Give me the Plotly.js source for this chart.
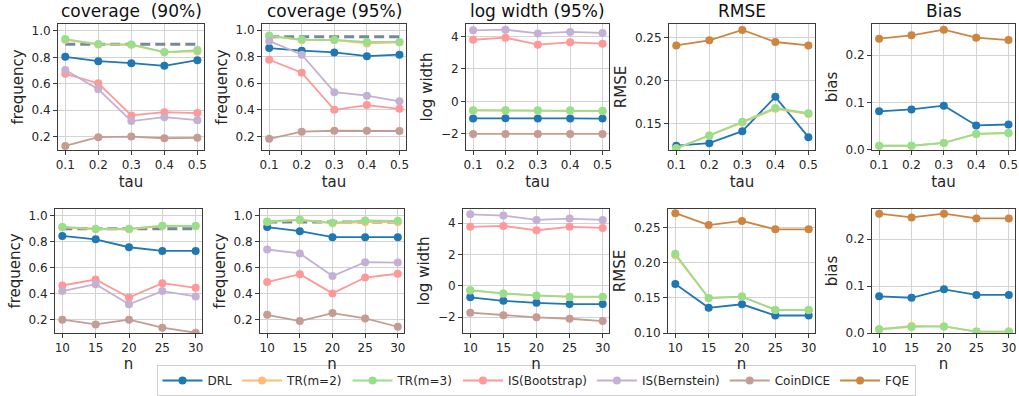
<!DOCTYPE html>
<html>
<head>
<meta charset="utf-8">
<script src="https://cdn.plot.ly/plotly-3.0.1.min.js"></script>
<style>html,body{margin:0;padding:0;background:#fff;}#chart{width:1019px;height:396px;}</style>
</head>
<body>
<div id="chart"></div>
<script>
// ---------------- data ----------------
const tauVals = [0.1, 0.2, 0.3, 0.4, 0.5];
const nVals = [10, 15, 20, 25, 30];
const nominal90 = 0.9;
const nominal95 = 0.95;

// coverage (90%) vs tau
const cov90Tau_DRL  = [0.804, 0.771, 0.756, 0.736, 0.779];
const cov90Tau_TR2  = [0.932, 0.898, 0.895, 0.838, 0.845];
const cov90Tau_TR3  = [0.939, 0.901, 0.898, 0.840, 0.855];
const cov90Tau_Boot = [0.675, 0.604, 0.360, 0.385, 0.378];
const cov90Tau_Bern = [0.705, 0.558, 0.317, 0.347, 0.324];
const cov90Tau_Coin = [0.129, 0.195, 0.200, 0.187, 0.190];

// coverage (95%) vs tau
const cov95Tau_DRL  = [0.865, 0.845, 0.832, 0.804, 0.815];
const cov95Tau_TR2  = [0.955, 0.925, 0.925, 0.900, 0.908];
const cov95Tau_TR3  = [0.959, 0.929, 0.926, 0.911, 0.911];
const cov95Tau_Boot = [0.777, 0.680, 0.400, 0.436, 0.408];
const cov95Tau_Bern = [0.919, 0.815, 0.533, 0.507, 0.464];
const cov95Tau_Coin = [0.182, 0.236, 0.243, 0.243, 0.241];

// log width (95%) vs tau
const logwTau_DRL  = [-1.05, -1.04, -1.05, -1.05, -1.06];
const logwTau_TR2  = [-0.56, -0.56, -0.57, -0.58, -0.60];
const logwTau_TR3  = [-0.54, -0.54, -0.55, -0.55, -0.58];
const logwTau_Boot = [3.79, 3.92, 3.49, 3.63, 3.55];
const logwTau_Bern = [4.37, 4.41, 4.18, 4.27, 4.21];
const logwTau_Coin = [-2.00, -2.00, -2.00, -2.00, -2.00];

// RMSE vs tau
const rmseTau_DRL = [0.124, 0.127, 0.141, 0.181, 0.134];
const rmseTau_TR2 = [0.121, 0.136, 0.151, 0.167, 0.161];
const rmseTau_TR3 = [0.121, 0.136, 0.152, 0.168, 0.162];
const rmseTau_FQE = [0.241, 0.247, 0.259, 0.245, 0.241];

// Bias vs tau
const biasTau_DRL = [0.081, 0.085, 0.093, 0.051, 0.053];
const biasTau_TR2 = [0.008, 0.008, 0.014, 0.033, 0.035];
const biasTau_TR3 = [0.008, 0.008, 0.014, 0.033, 0.035];
const biasTau_FQE = [0.235, 0.242, 0.254, 0.237, 0.232];

// coverage (90%) vs n
const cov90N_DRL  = [0.844, 0.818, 0.757, 0.729, 0.729];
const cov90N_TR2  = [0.910, 0.895, 0.895, 0.920, 0.920];
const cov90N_TR3  = [0.913, 0.900, 0.900, 0.923, 0.921];
const cov90N_Boot = [0.463, 0.509, 0.371, 0.481, 0.445];
const cov90N_Bern = [0.420, 0.473, 0.318, 0.420, 0.379];
const cov90N_Coin = [0.200, 0.164, 0.200, 0.139, 0.100];

// coverage (95%) vs n
const cov95N_DRL  = [0.911, 0.880, 0.834, 0.834, 0.834];
const cov95N_TR2  = [0.950, 0.965, 0.940, 0.950, 0.950];
const cov95N_TR3  = [0.954, 0.969, 0.944, 0.962, 0.959];
const cov95N_Boot = [0.489, 0.550, 0.402, 0.524, 0.553];
const cov95N_Bern = [0.739, 0.709, 0.535, 0.642, 0.639];
const cov95N_Coin = [0.238, 0.190, 0.251, 0.210, 0.146];

// log width (95%) vs n
const logwN_DRL  = [-0.74, -0.96, -1.09, -1.17, -1.17];
const logwN_TR2  = [-0.30, -0.50, -0.63, -0.71, -0.71];
const logwN_TR3  = [-0.28, -0.49, -0.62, -0.70, -0.70];
const logwN_Boot = [3.77, 3.83, 3.55, 3.77, 3.70];
const logwN_Bern = [4.57, 4.49, 4.21, 4.30, 4.21];
const logwN_Coin = [-1.72, -1.89, -2.02, -2.11, -2.26];

// RMSE vs n
const rmseN_DRL = [0.170, 0.136, 0.141, 0.125, 0.125];
const rmseN_TR2 = [0.211, 0.150, 0.152, 0.133, 0.133];
const rmseN_TR3 = [0.213, 0.150, 0.152, 0.133, 0.133];
const rmseN_FQE = [0.271, 0.254, 0.260, 0.248, 0.248];

// Bias vs n
const biasN_DRL = [0.078, 0.075, 0.093, 0.081, 0.081];
const biasN_TR2 = [0.008, 0.015, 0.014, 0.003, 0.003];
const biasN_TR3 = [0.008, 0.013, 0.014, 0.003, 0.003];
const biasN_FQE = [0.254, 0.246, 0.254, 0.244, 0.244];

const seriesNames = ['DRL', 'TR(m=2)', 'TR(m=3)', 'IS(Bootstrap)', 'IS(Bernstein)', 'CoinDICE', 'FQE'];
const panelTitles = ['coverage\u00a0\u00a0(90%)', 'coverage (95%)', 'log width (95%)', 'RMSE', 'Bias'];
const yTitles = ['frequency', 'frequency', 'log width', 'RMSE', 'bias'];
const xTitles = ['tau', 'n'];

// ---------------- style ----------------
const W = 1019, H = 396;
const FONT = 'DejaVu Sans, sans-serif';
const colors = {
  'DRL': '#1f77b4', 'TR(m=2)': '#ffbb78', 'TR(m=3)': '#98df8a',
  'IS(Bootstrap)': '#ff9896', 'IS(Bernstein)': '#c5b0d5', 'CoinDICE': '#c49c94', 'FQE': '#cd853f'
};
// pixel boxes [left, right, top, bottom]
const boxes = [
  [58, 204, 24, 150], [262, 406, 24, 150], [466, 609, 24, 150], [669, 815, 24, 150], [872, 1015, 24, 150],
  [55, 202, 209, 333], [260, 404, 209, 333], [463, 609, 209, 333], [668, 815, 209, 333], [872, 1015, 209, 333]
];
const yRanges = [
  [0.098, 1.053], [0.098, 1.046], [-2.99, 4.76], [0.119, 0.266], [-0.001, 0.266],
  [0.098, 1.051], [0.098, 1.050], [-3.02, 4.91], [0.100, 0.277], [0.0, 0.264]
];
const yTicks = [
  [0.2, 0.4, 0.6, 0.8, 1.0], [0.2, 0.4, 0.6, 0.8, 1.0], [-2, 0, 2, 4], [0.15, 0.20, 0.25], [0.0, 0.1, 0.2],
  [0.2, 0.4, 0.6, 0.8, 1.0], [0.2, 0.4, 0.6, 0.8, 1.0], [-2, 0, 2, 4], [0.10, 0.15, 0.20, 0.25], [0.0, 0.1, 0.2]
];
const yFormats = ['.1f', '.1f', 'd', '.2f', '.1f', '.1f', '.1f', 'd', '.2f', '.1f'];

const panels = [
  {x: tauVals, nominal: nominal90, s: [cov90Tau_DRL, cov90Tau_TR2, cov90Tau_TR3, cov90Tau_Boot, cov90Tau_Bern, cov90Tau_Coin, null]},
  {x: tauVals, nominal: nominal95, s: [cov95Tau_DRL, cov95Tau_TR2, cov95Tau_TR3, cov95Tau_Boot, cov95Tau_Bern, cov95Tau_Coin, null]},
  {x: tauVals, nominal: null, s: [logwTau_DRL, logwTau_TR2, logwTau_TR3, logwTau_Boot, logwTau_Bern, logwTau_Coin, null]},
  {x: tauVals, nominal: null, s: [rmseTau_DRL, rmseTau_TR2, rmseTau_TR3, null, null, null, rmseTau_FQE]},
  {x: tauVals, nominal: null, s: [biasTau_DRL, biasTau_TR2, biasTau_TR3, null, null, null, biasTau_FQE]},
  {x: nVals, nominal: nominal90, s: [cov90N_DRL, cov90N_TR2, cov90N_TR3, cov90N_Boot, cov90N_Bern, cov90N_Coin, null]},
  {x: nVals, nominal: nominal95, s: [cov95N_DRL, cov95N_TR2, cov95N_TR3, cov95N_Boot, cov95N_Bern, cov95N_Coin, null]},
  {x: nVals, nominal: null, s: [logwN_DRL, logwN_TR2, logwN_TR3, logwN_Boot, logwN_Bern, logwN_Coin, null]},
  {x: nVals, nominal: null, s: [rmseN_DRL, rmseN_TR2, rmseN_TR3, null, null, null, rmseN_FQE]},
  {x: nVals, nominal: null, s: [biasN_DRL, biasN_TR2, biasN_TR3, null, null, null, biasN_FQE]}
];

const traces = [];
const layout = {
  width: W, height: H,
  margin: {l: 0, r: 0, t: 0, b: 0},
  paper_bgcolor: '#fff', plot_bgcolor: '#fff',
  font: {family: FONT, color: '#262626'},
  showlegend: true,
  legend: {
    orientation: 'h', x: 536 / W, xanchor: 'center', y: 0, yanchor: 'bottom',
    bgcolor: 'rgba(255,255,255,0)', bordercolor: '#d0d0d0', borderwidth: 1, itemwidth: 40,
    font: {family: FONT, size: 12, color: '#262626'}, traceorder: 'normal'
  },
  annotations: []
};
const legendShown = {};

panels.forEach((p, i) => {
  const k = i + 1;
  const xa = 'x' + (k === 1 ? '' : k), ya = 'y' + (k === 1 ? '' : k);
  const xkey = 'xaxis' + (k === 1 ? '' : k), ykey = 'yaxis' + (k === 1 ? '' : k);
  const b = boxes[i];
  const isTau = p.x === tauVals;
  const axisBase = {
    showgrid: true, gridcolor: '#d3d3d3', gridwidth: 1, zeroline: false,
    showline: true, mirror: true, linecolor: '#3a3a3a', linewidth: 1,
    ticks: 'outside', ticklen: 4, tickcolor: '#3a3a3a', ticklabeloverflow: 'allow',
    tickfont: {family: FONT, size: 12, color: '#262626'}, automargin: false, fixedrange: true
  };
  layout[xkey] = Object.assign({}, axisBase, {
    domain: [b[0] / W, b[1] / W], anchor: ya,
    range: isTau ? [0.078, 0.52] : [8.9, 30.95],
    tickvals: p.x, ticktext: p.x.map(v => isTau ? v.toFixed(1) : String(v)),
    title: {text: isTau ? xTitles[0] : xTitles[1], font: {family: FONT, size: 15, color: '#262626'}, standoff: isTau ? 5 : 2}
  });
  layout[ykey] = Object.assign({}, axisBase, {
    domain: [1 - b[3] / H, 1 - b[2] / H], anchor: xa,
    range: yRanges[i], tickvals: yTicks[i], tickformat: yFormats[i],
    title: {text: yTitles[i % 5], font: {family: FONT, size: 15, color: '#262626'}, standoff: 4}
  });
  if (p.nominal !== null) {
    traces.push({
      x: p.x, y: p.x.map(() => p.nominal), xaxis: xa, yaxis: ya, mode: 'lines',
      line: {color: '#778899', width: 3, dash: '10px,5px'}, showlegend: false, hoverinfo: 'skip'
    });
  }
  p.s.forEach((vals, j) => {
    if (!vals) return;
    const name = seriesNames[j];
    const show = !legendShown[name];
    legendShown[name] = true;
    traces.push({
      x: p.x, y: vals, xaxis: xa, yaxis: ya, mode: 'lines+markers', name: name,
      legendgroup: name, showlegend: show, legendrank: j + 1,
      line: {color: colors[name], width: 1.8},
      marker: {color: colors[name], size: 8}
    });
  });
  if (i < 5) {
    layout.annotations.push({
      text: panelTitles[i], xref: 'paper', yref: 'paper',
      x: (b[0] + b[1]) / 2 / W, y: 1 - 11 / H, xanchor: 'center', yanchor: 'middle',
      showarrow: false, font: {family: FONT, size: 17, color: '#111'}
    });
  }
});

Plotly.newPlot('chart', traces, layout, {displayModeBar: false, staticPlot: true});
</script>
</body>
</html>
